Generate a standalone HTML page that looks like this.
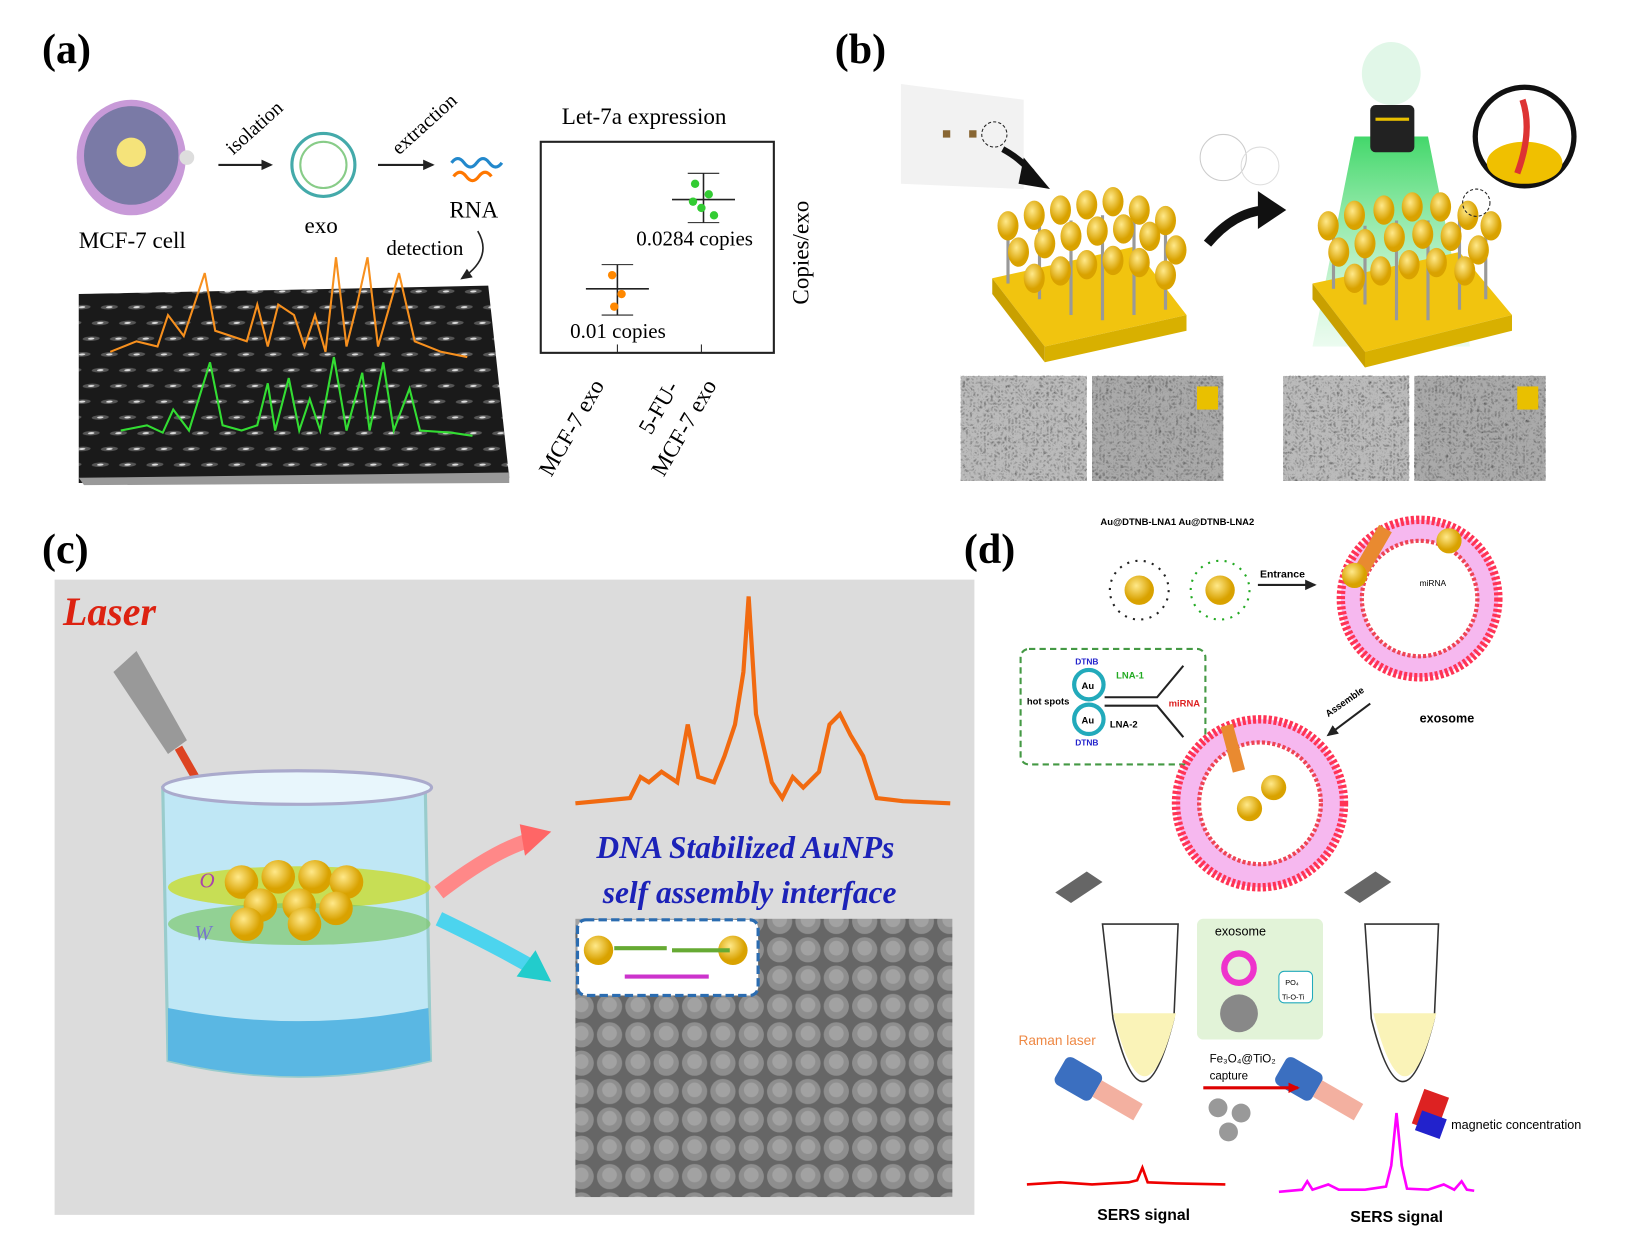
<!DOCTYPE html>
<html><head><meta charset="utf-8"><style>
html,body{margin:0;padding:0;background:#fff}
svg{display:block}
text{font-family:"Liberation Serif",serif}
.s{font-family:"Liberation Sans",sans-serif}
</style></head><body>
<svg width="1638" height="1258" viewBox="0 0 1560 1198" xmlns="http://www.w3.org/2000/svg">
<defs>
<pattern id="sem" width="26" height="15" patternUnits="userSpaceOnUse" patternTransform="skewX(-30)">
<rect width="26" height="15" fill="#1a1a1a"/><ellipse cx="13" cy="7.5" rx="8" ry="2.2" fill="#555"/><ellipse cx="13" cy="7.5" rx="3" ry="1" fill="#ddd"/></pattern>
<pattern id="dots" width="27" height="27" patternUnits="userSpaceOnUse">
<rect width="27" height="27" fill="#666"/><circle cx="13.5" cy="13.5" r="12" fill="#8e8e8e"/><circle cx="13.5" cy="12" r="7" fill="#a2a2a2"/></pattern>
<filter id="noise" x="0" y="0" width="1" height="1"><feTurbulence baseFrequency="0.3" numOctaves="2" seed="3"/><feColorMatrix type="matrix" values="0 0 0 0 0.1  0 0 0 0 0.1  0 0 0 0 0.1  1.6 0 0 0 -0.3"/><feComposite in2="SourceGraphic" operator="over"/></filter>
<radialGradient id="au" cx="0.4" cy="0.35"><stop offset="0" stop-color="#ffe98a"/><stop offset="1" stop-color="#d9a200"/></radialGradient>
<linearGradient id="beam" x1="0" y1="0" x2="0" y2="1"><stop offset="0" stop-color="#2ed35a" stop-opacity=".9"/><stop offset="1" stop-color="#7fe89a" stop-opacity=".15"/></linearGradient>
<marker id="ah" markerUnits="userSpaceOnUse" markerWidth="12" markerHeight="12" refX="9" refY="6" orient="auto"><path d="M0,1L11,6L0,11z" fill="#222"/></marker>
<marker id="ahr" markerUnits="userSpaceOnUse" markerWidth="12" markerHeight="12" refX="9" refY="6" orient="auto"><path d="M0,1L11,6L0,11z" fill="#d00"/></marker>
</defs>

<!-- (a) -->
<text x="40" y="60" font-size="40" font-weight="bold">(a)</text>
<ellipse cx="125" cy="150" rx="52" ry="55" fill="#c89ad8"/><ellipse cx="125" cy="148" rx="45" ry="47" fill="#7a7aa6"/>
<circle cx="125" cy="145" r="14" fill="#f5e37a"/><circle cx="178" cy="150" r="7" fill="#ddd"/>
<text x="75" y="236" font-size="22">MCF-7 cell</text>
<line x1="208" y1="157" x2="258" y2="157" stroke="#222" stroke-width="2" marker-end="url(#ah)"/>
<text x="222" y="148" font-size="19" transform="rotate(-42 222 148)">isolation</text>
<circle cx="308" cy="157" r="30" fill="none" stroke="#4aa" stroke-width="3"/><circle cx="308" cy="157" r="22" fill="none" stroke="#8c8" stroke-width="2"/>
<text x="290" y="222" font-size="22">exo</text>
<line x1="360" y1="157" x2="412" y2="157" stroke="#222" stroke-width="2" marker-end="url(#ah)"/>
<text x="380" y="148" font-size="19" transform="rotate(-42 380 148)">extraction</text>
<path d="M430 155q6-8 12 0t12 0t12 0t12 0" fill="none" stroke="#28c" stroke-width="3"/><path d="M432 168q6-8 12 0t12 0t12 0" fill="none" stroke="#f70" stroke-width="3"/>
<text x="428" y="207" font-size="22">RNA</text>
<text x="368" y="243" font-size="20">detection</text>
<path d="M455 220q15 25-15 45" fill="none" stroke="#222" stroke-width="1.5" marker-end="url(#ah)"/>
<polygon points="75,280 465,272 485,455 75,460" fill="url(#sem)"/>
<polygon points="75,455 485,450 485,460 80,462" fill="#999"/>
<polyline points="105,335 130,325 150,330 160,300 175,320 195,260 205,315 220,320 235,325 245,290 255,330 265,290 280,300 290,330 300,300 310,335 320,245 330,330 340,290 350,245 360,330 380,260 395,325 420,335 445,340" fill="none" stroke="#f7901e" stroke-width="2"/>
<polyline points="115,410 140,405 155,412 165,390 180,410 200,345 212,405 230,410 245,405 255,365 262,410 275,360 285,410 295,380 305,410 318,340 330,410 345,355 352,410 365,345 375,410 390,370 400,410 430,412 450,415" fill="none" stroke="#33dd33" stroke-width="2"/>
<text x="535" y="118" font-size="22">Let-7a expression</text>
<rect x="515" y="135" width="222" height="201" fill="none" stroke="#222" stroke-width="2"/>
<line x1="588" y1="336" x2="588" y2="328" stroke="#222"/><line x1="668" y1="336" x2="668" y2="328" stroke="#222"/>
<line x1="640" y1="190" x2="700" y2="190" stroke="#222" stroke-width="1.5"/><line x1="670" y1="165" x2="670" y2="212" stroke="#222" stroke-width="1.5"/>
<line x1="655" y1="165" x2="685" y2="165" stroke="#222"/><line x1="655" y1="212" x2="685" y2="212" stroke="#222"/>
<g fill="#3c3"><circle cx="662" cy="175" r="4"/><circle cx="675" cy="185" r="4"/><circle cx="668" cy="198" r="4"/><circle cx="680" cy="205" r="4"/><circle cx="660" cy="192" r="4"/></g>
<line x1="558" y1="275" x2="618" y2="275" stroke="#222" stroke-width="1.5"/><line x1="588" y1="252" x2="588" y2="300" stroke="#222" stroke-width="1.5"/>
<line x1="573" y1="252" x2="603" y2="252" stroke="#222"/><line x1="573" y1="300" x2="603" y2="300" stroke="#222"/>
<g fill="#f80"><circle cx="583" cy="262" r="4"/><circle cx="592" cy="280" r="4"/><circle cx="585" cy="292" r="4"/></g>
<text x="606" y="234" font-size="20">0.0284 copies</text>
<text x="543" y="322" font-size="20">0.01 copies</text>
<text x="770" y="290" font-size="22" transform="rotate(-90 770 290)">Copies/exo</text>
<text x="525" y="455" font-size="22" transform="rotate(-60 525 455)">MCF-7 exo</text>
<text x="620" y="415" font-size="22" transform="rotate(-60 620 415)">5-FU-</text>
<text x="632" y="455" font-size="22" transform="rotate(-60 632 455)">MCF-7 exo</text>

<!-- (b) -->
<text x="795" y="60" font-size="40" font-weight="bold">(b)</text>
<polygon points="858,80 975,95 975,180 858,175" fill="#f2f2f2"/>
<rect x="898" y="124" width="7" height="7" fill="#863"/><rect x="923" y="124" width="7" height="7" fill="#863"/><circle cx="947" cy="128" r="12" fill="none" stroke="#222" stroke-dasharray="3 2"/>
<path d="M955 142q15 8 28 22" fill="none" stroke="#111" stroke-width="6"/><polygon points="975,150 1000,180 970,175" fill="#111"/>
<polygon points="945,265 1080,235 1130,300 995,330" fill="#f1c40f"/><polygon points="945,265 995,330 995,345 945,280" fill="#c9a000"/><polygon points="995,330 1130,300 1130,315 995,345" fill="#d8b000"/>
<g stroke="#999" stroke-width="3">
<line x1="960" y1="220" x2="960" y2="270"/><line x1="990" y1="215" x2="990" y2="285"/><line x1="1020" y1="210" x2="1020" y2="300"/><line x1="1050" y1="205" x2="1050" y2="305"/><line x1="1080" y1="200" x2="1080" y2="300"/><line x1="1110" y1="205" x2="1110" y2="295"/></g>
<g fill="url(#au)">
<ellipse cx="960" cy="215" rx="10" ry="14"/><ellipse cx="985" cy="205" rx="10" ry="14"/><ellipse cx="1010" cy="200" rx="10" ry="14"/><ellipse cx="1035" cy="195" rx="10" ry="14"/><ellipse cx="1060" cy="192" rx="10" ry="14"/><ellipse cx="1085" cy="200" rx="10" ry="14"/><ellipse cx="1110" cy="210" rx="10" ry="14"/>
<ellipse cx="970" cy="240" rx="10" ry="14"/><ellipse cx="995" cy="232" rx="10" ry="14"/><ellipse cx="1020" cy="225" rx="10" ry="14"/><ellipse cx="1045" cy="220" rx="10" ry="14"/><ellipse cx="1070" cy="218" rx="10" ry="14"/><ellipse cx="1095" cy="225" rx="10" ry="14"/><ellipse cx="1120" cy="238" rx="10" ry="14"/>
<ellipse cx="985" cy="265" rx="10" ry="14"/><ellipse cx="1010" cy="258" rx="10" ry="14"/><ellipse cx="1035" cy="252" rx="10" ry="14"/><ellipse cx="1060" cy="248" rx="10" ry="14"/><ellipse cx="1085" cy="250" rx="10" ry="14"/><ellipse cx="1110" cy="262" rx="10" ry="14"/></g>
<circle cx="1165" cy="150" r="22" fill="none" stroke="#ccc"/><circle cx="1200" cy="158" r="18" fill="none" stroke="#ddd"/>
<path d="M1150 232q25-30 55-32" fill="none" stroke="#111" stroke-width="9"/><polygon points="1198,182 1225,200 1198,218" fill="#111"/>
<polygon points="1290,130 1360,130 1400,330 1250,330" fill="url(#beam)"/>
<ellipse cx="1325" cy="70" rx="28" ry="30" fill="#3c6" opacity=".15"/>
<rect x="1305" y="100" width="42" height="45" rx="5" fill="#222"/><rect x="1310" y="112" width="32" height="3" fill="#e9c000"/>
<polygon points="1250,270 1390,240 1440,300 1300,335" fill="#f1c40f"/><polygon points="1250,270 1300,335 1300,350 1250,285" fill="#c9a000"/><polygon points="1300,335 1440,300 1440,315 1300,350" fill="#d8b000"/>
<g stroke="#999" stroke-width="3"><line x1="1270" y1="215" x2="1270" y2="275"/><line x1="1300" y1="215" x2="1300" y2="290"/><line x1="1330" y1="210" x2="1330" y2="305"/><line x1="1360" y1="210" x2="1360" y2="305"/><line x1="1390" y1="205" x2="1390" y2="295"/><line x1="1415" y1="210" x2="1415" y2="285"/></g>
<g fill="url(#au)">
<ellipse cx="1265" cy="215" rx="10" ry="14"/><ellipse cx="1290" cy="205" rx="10" ry="14"/><ellipse cx="1318" cy="200" rx="10" ry="14"/><ellipse cx="1345" cy="197" rx="10" ry="14"/><ellipse cx="1372" cy="197" rx="10" ry="14"/><ellipse cx="1398" cy="205" rx="10" ry="14"/><ellipse cx="1420" cy="215" rx="10" ry="14"/>
<ellipse cx="1275" cy="240" rx="10" ry="14"/><ellipse cx="1300" cy="232" rx="10" ry="14"/><ellipse cx="1328" cy="226" rx="10" ry="14"/><ellipse cx="1355" cy="223" rx="10" ry="14"/><ellipse cx="1382" cy="225" rx="10" ry="14"/><ellipse cx="1408" cy="238" rx="10" ry="14"/>
<ellipse cx="1290" cy="265" rx="10" ry="14"/><ellipse cx="1315" cy="258" rx="10" ry="14"/><ellipse cx="1342" cy="252" rx="10" ry="14"/><ellipse cx="1368" cy="250" rx="10" ry="14"/><ellipse cx="1395" cy="258" rx="10" ry="14"/></g>
<circle cx="1406" cy="193" r="13" fill="none" stroke="#222" stroke-dasharray="3 2"/>
<circle cx="1452" cy="130" r="47" fill="#fff" stroke="#111" stroke-width="5"/>
<ellipse cx="1452" cy="155" rx="36" ry="20" fill="#f0c000"/><path d="M1450 95q10 30-5 70" stroke="#d33" stroke-width="6" fill="none"/>
<rect x="915" y="358" width="120" height="100" fill="#bbb" filter="url(#noise)"/>
<rect x="1040" y="358" width="125" height="100" fill="#aaa" filter="url(#noise)"/>
<rect x="1222" y="358" width="120" height="100" fill="#bbb" filter="url(#noise)"/>
<rect x="1347" y="358" width="125" height="100" fill="#aaa" filter="url(#noise)"/>
<rect x="1140" y="368" width="20" height="22" fill="#e9c000"/><rect x="1445" y="368" width="20" height="22" fill="#e9c000"/>

<!-- (c) -->
<text x="40" y="536" font-size="40" font-weight="bold">(c)</text>
<rect x="52" y="552" width="876" height="605" fill="#dcdcdc"/>
<text x="60" y="595" font-size="38" font-weight="bold" font-style="italic" fill="#d21">Laser</text>
<polygon points="108,640 130,620 178,705 160,718" fill="#999"/>
<line x1="170" y1="712" x2="260" y2="870" stroke="#d42" stroke-width="8"/>
<path d="M155 750 L160 1010 Q285 1040 410 1010 L405 750 Z" fill="#bfe7f5" stroke="#9cc" stroke-width="3"/>
<ellipse cx="283" cy="750" rx="128" ry="16" fill="#e8f6fc" stroke="#aac" stroke-width="3"/>
<path d="M160 960 L160 1010 Q285 1040 410 1010 L408 960 Q285 985 160 960Z" fill="#5ab7e3"/>
<ellipse cx="285" cy="845" rx="125" ry="20" fill="#c8dc38" opacity=".85"/>
<ellipse cx="285" cy="880" rx="125" ry="20" fill="#7fc86b" opacity=".7"/>
<g fill="url(#au)"><circle cx="230" cy="840" r="16"/><circle cx="265" cy="835" r="16"/><circle cx="300" cy="835" r="16"/><circle cx="330" cy="840" r="16"/><circle cx="248" cy="862" r="16"/><circle cx="285" cy="862" r="16"/><circle cx="320" cy="865" r="16"/><circle cx="235" cy="880" r="16"/><circle cx="290" cy="880" r="16"/></g>
<text x="190" y="845" font-size="20" font-style="italic" fill="#a4a">O</text>
<text x="185" y="895" font-size="20" font-style="italic" fill="#77c">W</text>
<path d="M418 850 Q470 810 505 800" stroke="#f88" stroke-width="14" fill="none"/><polygon points="495,785 525,792 500,815" fill="#f66"/>
<path d="M418 875 Q470 900 505 920" stroke="#4cd4ee" stroke-width="14" fill="none"/><polygon points="492,930 525,935 510,905" fill="#2cc"/>
<polyline points="548,765 580,762 600,760 610,740 618,745 630,735 645,745 655,690 665,740 680,745 690,720 700,690 708,640 713,568 720,680 735,745 745,760 755,740 765,750 780,735 790,690 800,680 810,700 822,720 835,760 860,763 905,765" fill="none" stroke="#f16a10" stroke-width="4"/>
<text x="568" y="817" font-size="30" font-weight="bold" font-style="italic" fill="#1c22b8">DNA Stabilized AuNPs</text>
<text x="574" y="860" font-size="30" font-weight="bold" font-style="italic" fill="#1c22b8">self assembly interface</text>
<rect x="548" y="875" width="359" height="265" fill="url(#dots)"/>
<rect x="550" y="876" width="172" height="72" rx="8" fill="#fff" stroke="#2b6cb0" stroke-width="3" stroke-dasharray="8 4"/>
<circle cx="570" cy="905" r="14" fill="url(#au)"/><circle cx="698" cy="905" r="14" fill="url(#au)"/>
<path d="M585 903h50M640 905h55" stroke="#6a3" stroke-width="4"/><path d="M595 930h80" stroke="#c3c" stroke-width="4"/>

<!-- (d) -->
<text x="918" y="536" font-size="40" font-weight="bold">(d)</text>
<text x="1048" y="500" font-size="9" class="s" font-weight="bold">Au@DTNB-LNA1  Au@DTNB-LNA2</text>
<circle cx="1085" cy="562" r="14" fill="url(#au)"/><circle cx="1085" cy="562" r="28" fill="none" stroke="#222" stroke-dasharray="2 6" stroke-width="2"/>
<circle cx="1162" cy="562" r="14" fill="url(#au)"/><circle cx="1162" cy="562" r="28" fill="none" stroke="#2a2" stroke-dasharray="2 6" stroke-width="2"/>
<line x1="1198" y1="557" x2="1252" y2="557" stroke="#222" stroke-width="2" marker-end="url(#ah)"/>
<text x="1200" y="550" font-size="10" class="s" font-weight="bold">Entrance</text>
<circle cx="1352" cy="570" r="75" fill="#f6b8ef" stroke="#f35" stroke-width="8" stroke-dasharray="3 2"/><circle cx="1352" cy="570" r="55" fill="#fff" stroke="#e45" stroke-width="4" stroke-dasharray="3 2"/>
<rect x="1300" y="500" width="14" height="50" fill="#e98a30" transform="rotate(30 1307 525)"/>
<circle cx="1290" cy="548" r="12" fill="url(#au)"/><circle cx="1380" cy="515" r="12" fill="url(#au)"/>
<text x="1352" y="558" font-size="8" class="s">miRNA</text>
<text x="1352" y="688" font-size="12" class="s" font-weight="bold">exosome</text>
<rect x="972" y="618" width="176" height="110" rx="8" fill="none" stroke="#494" stroke-dasharray="6 4" stroke-width="2"/>
<circle cx="1037" cy="652" r="14" fill="#fff" stroke="#2ab" stroke-width="4"/><circle cx="1037" cy="685" r="14" fill="#fff" stroke="#2ab" stroke-width="4"/>
<text x="1030" y="656" font-size="9" class="s" font-weight="bold">Au</text><text x="1030" y="689" font-size="9" class="s" font-weight="bold">Au</text>
<text x="1024" y="633" font-size="8" fill="#22c" class="s" font-weight="bold">DTNB</text><text x="1024" y="710" font-size="8" fill="#22c" class="s" font-weight="bold">DTNB</text>
<text x="978" y="671" font-size="9" class="s" font-weight="bold">hot spots</text>
<text x="1063" y="646" font-size="9" fill="#2a2" class="s" font-weight="bold">LNA-1</text><text x="1057" y="693" font-size="9" class="s" font-weight="bold">LNA-2</text>
<text x="1113" y="673" font-size="9" fill="#d22" class="s" font-weight="bold">miRNA</text>
<path d="M1052 664h50l25-30M1052 672h50l25 30" stroke="#222" stroke-width="2" fill="none"/>
<line x1="1305" y1="670" x2="1265" y2="700" stroke="#222" stroke-width="2" marker-end="url(#ah)"/>
<text x="1265" y="683" font-size="9" class="s" font-weight="bold" transform="rotate(-35 1265 683)">Assemble</text>
<circle cx="1200" cy="765" r="80" fill="#f6b8ef" stroke="#f35" stroke-width="8" stroke-dasharray="3 2"/><circle cx="1200" cy="765" r="58" fill="#fff" stroke="#e45" stroke-width="4" stroke-dasharray="3 2"/>
<circle cx="1190" cy="770" r="12" fill="url(#au)"/><circle cx="1213" cy="750" r="12" fill="url(#au)"/>
<rect x="1168" y="690" width="12" height="45" fill="#e98a30" transform="rotate(-15 1174 712)"/>
<path d="M1005 850l30-20 15 10-30 20z" fill="#666"/><path d="M1280 850l30-20 15 10-30 20z" fill="#666"/>
<path d="M1050 880 L1122 880 L1118 970 Q1088 1090 1060 970Z" fill="#fff" stroke="#333" stroke-width="1.5"/>
<path d="M1053 965 L1120 965 Q1090 1085 1060 965Z" fill="#faf3b8"/>
<path d="M1300 880 L1370 880 L1366 970 Q1336 1090 1306 970Z" fill="#fff" stroke="#333" stroke-width="1.5"/>
<path d="M1303 965 L1368 965 Q1338 1085 1308 965Z" fill="#faf3b8"/>
<rect x="1140" y="875" width="120" height="115" rx="6" fill="#e2f3d8"/>
<text x="1157" y="891" font-size="12" class="s">exosome</text>
<circle cx="1180" cy="922" r="14" fill="none" stroke="#e3c" stroke-width="6"/><circle cx="1180" cy="965" r="18" fill="#888"/>
<rect x="1218" y="925" width="32" height="30" rx="5" fill="#fff" stroke="#2ab"/><text x="1224" y="938" font-size="7" class="s">PO₄</text><text x="1221" y="952" font-size="7" class="s">Ti-O-Ti</text>
<text x="970" y="995" font-size="13" class="s" fill="#e84">Raman laser</text>
<g transform="rotate(30 1040 1035)"><rect x="1005" y="1020" width="40" height="30" rx="6" fill="#3b6fc0"/><rect x="1045" y="1025" width="45" height="18" fill="#f3b0a0"/></g>
<g transform="rotate(30 1250 1035)"><rect x="1215" y="1020" width="40" height="30" rx="6" fill="#3b6fc0"/><rect x="1255" y="1025" width="45" height="18" fill="#f3b0a0"/></g>
<rect x="1350" y="1040" width="25" height="35" fill="#d22" transform="rotate(20 1362 1057)"/><rect x="1355" y="1060" width="25" height="20" fill="#22c" transform="rotate(20 1362 1057)"/>
<text x="1152" y="1012" font-size="11" class="s">Fe₃O₄@TiO₂</text><text x="1152" y="1028" font-size="11" class="s">capture</text>
<line x1="1146" y1="1036" x2="1236" y2="1036" stroke="#d00" stroke-width="3" marker-end="url(#ahr)"/>
<g fill="#999"><circle cx="1160" cy="1055" r="9"/><circle cx="1182" cy="1060" r="9"/><circle cx="1170" cy="1078" r="9"/></g>
<text x="1382" y="1075" font-size="12" class="s">magnetic concentration</text>
<polyline points="978,1128 1010,1126 1040,1128 1075,1126 1083,1124 1088,1112 1093,1126 1120,1127 1167,1128" fill="none" stroke="#e00" stroke-width="2.5"/>
<polyline points="1218,1135 1240,1133 1245,1125 1250,1133 1265,1128 1275,1133 1300,1133 1320,1130 1325,1110 1330,1060 1335,1110 1340,1132 1360,1133 1375,1128 1385,1133 1392,1125 1397,1133 1404,1134" fill="none" stroke="#f0f" stroke-width="2.5"/>
<text x="1045" y="1162" font-size="15" class="s" font-weight="bold">SERS signal</text>
<text x="1286" y="1164" font-size="15" class="s" font-weight="bold">SERS signal</text>
</svg>
</body></html>
